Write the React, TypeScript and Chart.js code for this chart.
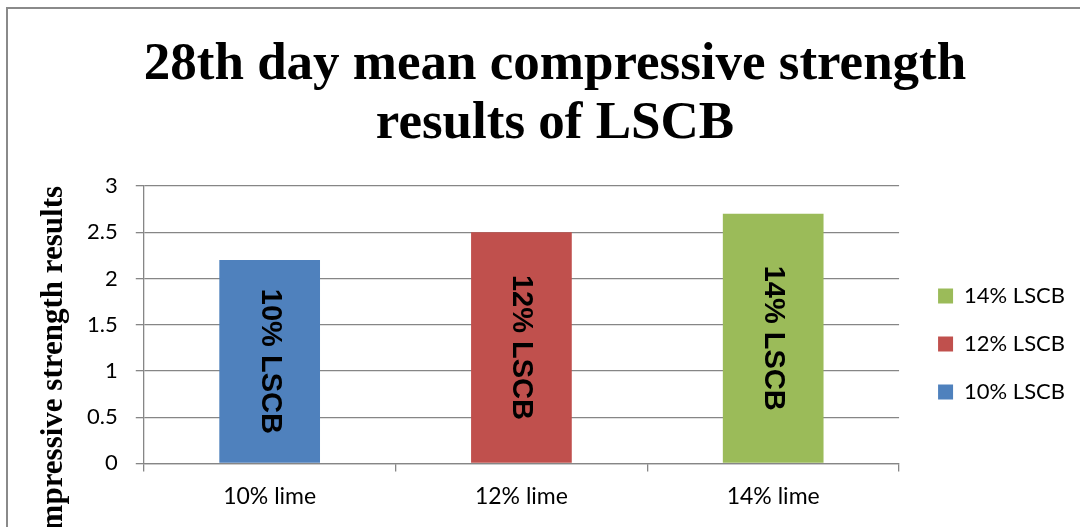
import React, { useEffect, useRef } from "react";
import { Chart, registerables } from "chart.js";

Chart.register(...registerables);

// Chart content
const categories = ["10% lime", "12% lime", "14% lime"];
const seriesLabels = ["10% LSCB", "12% LSCB", "14% LSCB"];
const seriesValues = [2.2, 2.5, 2.7];
const seriesColors = ["#4F81BD", "#C0504D", "#9BBB59"];
const yTickLabels = ["0", "0.5", "1", "1.5", "2", "2.5", "3"];
const titleLines = ["28th day mean compressive strength", "results of LSCB"];
const yAxisTitle = "Compressive strength results";

const GRID = "#868686";
const SANS = "Lato, 'Open Sans', sans-serif";
const SERIF = "'Liberation Serif', 'Times New Roman', serif";

// Writes each series name vertically (top to bottom) in the middle of its bar.
const barNamePlugin = {
  id: "barName",
  afterDatasetsDraw(chart: any) {
    const ctx = chart.ctx;
    chart.data.datasets.forEach((ds: any, i: number) => {
      const meta = chart.getDatasetMeta(i);
      meta.data.forEach((el: any, j: number) => {
        if (ds.data[j] == null) return;
        const { x, y, base } = el.getProps(["x", "y", "base"], true);
        ctx.save();
        ctx.translate(x, (y + base) / 2);
        ctx.rotate(Math.PI / 2);
        ctx.font = "bold 29px 'Liberation Sans', Arial, sans-serif";
        ctx.fillStyle = "#000";
        ctx.textAlign = "center";
        ctx.textBaseline = "middle";
        ctx.fillText(ds.label, 0, 0);
        ctx.restore();
      });
    });
  },
};

export default function App() {
  const canvasRef = useRef<HTMLCanvasElement | null>(null);

  useEffect(() => {
    if (!canvasRef.current) return;
    const datasets = seriesLabels.map((label, i) => ({
      label,
      data: categories.map((_, j) => (j === i ? seriesValues[i] : null)),
      backgroundColor: seriesColors[i],
      borderWidth: 0,
      skipNull: true,
      barPercentage: 0.4,
      categoryPercentage: 1,
    }));

    const chart = new Chart(canvasRef.current, {
      type: "bar",
      data: { labels: categories, datasets },
      plugins: [barNamePlugin],
      options: {
        responsive: false,
        animation: false,
        devicePixelRatio: 1,
        layout: { padding: { left: 27, right: 27, top: 0, bottom: 157 } },
        font: { family: SANS },
        color: "#000",
        plugins: {
          title: {
            display: true,
            text: titleLines,
            color: "#000",
            font: { family: SERIF, size: 53, weight: "bold", lineHeight: 1.113 },
            padding: { top: 27, bottom: 32 },
          },
          legend: {
            display: true,
            position: "right",
            align: "center",
            reverse: true,
            // blank heading used only to push the entries down
            title: {
              display: true,
              text: " ",
              font: { size: 10, lineHeight: 1.2 },
              padding: { top: 146, bottom: 0 },
            },
            labels: {
              boxWidth: 15,
              boxHeight: 15,
              padding: 26,
              color: "#000",
              font: { family: SANS, size: 22 },
            },
          },
          tooltip: { enabled: false },
        },
        scales: {
          x: {
            type: "category",
            offset: true,
            grid: {
              display: true,
              offset: true,
              drawOnChartArea: false,
              drawTicks: true,
              tickLength: 8,
              color: GRID,
              lineWidth: 1.3,
            },
            border: { display: true, color: GRID, width: 1.3 },
            ticks: {
              color: "#000",
              padding: 11,
              font: { family: SANS, size: 23 },
            },
          },
          y: {
            type: "linear",
            min: 0,
            max: 3,
            grid: {
              color: GRID,
              lineWidth: 1.3,
              drawTicks: true,
              tickLength: 8,
            },
            border: { display: true, color: GRID, width: 1.3 },
            ticks: {
              stepSize: 0.5,
              color: "#000",
              padding: 18,
              font: { family: SANS, size: 22 },
              callback: (_v: any, idx: number) => yTickLabels[idx],
            },
            title: {
              display: true,
              text: yAxisTitle,
              align: "end",
              color: "#000",
              font: { family: SERIF, size: 31, weight: "bold", lineHeight: 0.97 },
              padding: { top: 4, bottom: 0 },
            },
          },
          // empty spacer between the plot and the legend
          gap: {
            type: "linear",
            position: "right",
            display: true,
            grid: {
              display: true,
              drawOnChartArea: false,
              drawTicks: true,
              tickLength: 13,
              color: "rgba(0,0,0,0)",
            },
            border: { display: false },
            ticks: { display: false },
          },
        },
      } as any,
    });
    return () => chart.destroy();
  }, []);

  return (
    <div
      style={{
        position: "fixed",
        left: 0,
        top: 0,
        width: 1080,
        height: 527,
        overflow: "hidden",
        background: "#fff",
      }}
    >
      <div
        style={{
          position: "absolute",
          left: 6,
          top: 7,
          width: 1200,
          height: 720,
          border: "2px solid #8a8a8a",
        }}
      >
        <canvas
          ref={canvasRef}
          width={1094}
          height={669}
          style={{ position: "absolute", left: 0, top: 0, display: "block" }}
        />
      </div>
    </div>
  );
}
